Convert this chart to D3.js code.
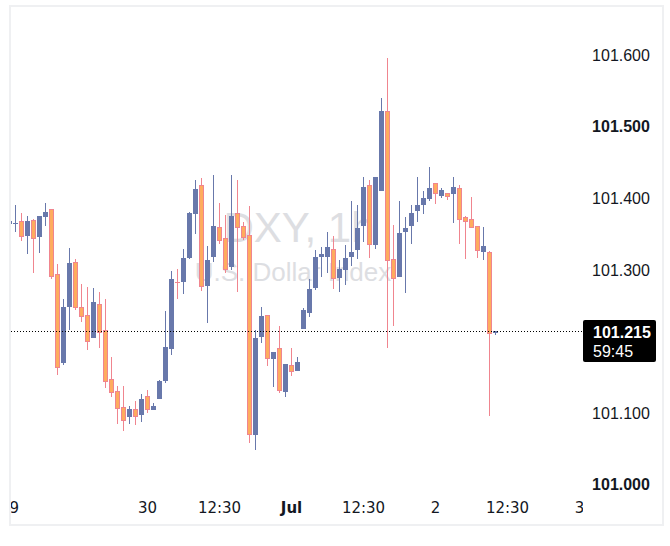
<!DOCTYPE html>
<html>
<head>
<meta charset="utf-8">
<script src="https://cdn.jsdelivr.net/npm/d3@7"></script>
<style>
html,body{margin:0;padding:0;background:#fff;}
svg{display:block;}
</style>
</head>
<body>
<script>
// ---- data (DXY, 1h candles) ----
const opens = [101.364,101.364,101.368,101.347,101.370,101.346,101.374,101.385,101.294,101.170,
101.248,101.311,101.248,101.237,101.205,101.253,101.216,101.148,101.131,101.109,
101.095,101.106,101.098,101.124,101.104,101.120,101.145,101.190,101.283,101.283,
101.317,101.378,101.419,101.278,101.318,101.360,101.345,101.304,101.380,101.361,
101.349,101.070,101.206,101.237,101.176,101.191,101.130,101.167,101.159,101.218,
101.240,101.275,101.318,101.318,101.329,101.289,101.300,101.318,101.328,101.361,
101.419,101.335,101.410,101.522,101.315,101.290,101.353,101.361,101.382,101.391,
101.399,101.422,101.403,101.408,101.406,101.415,101.374,101.371,101.361,101.325,
101.325,101.212];
const closes = [101.368,101.366,101.346,101.368,101.343,101.375,101.381,101.290,101.163,101.248,
101.310,101.247,101.234,101.199,101.255,101.212,101.144,101.128,101.106,101.089,
101.106,101.095,101.120,101.104,101.110,101.145,101.192,101.287,101.282,101.317,
101.380,101.413,101.276,101.314,101.361,101.340,101.300,101.375,101.359,101.345,
101.070,101.205,101.236,101.176,101.185,101.131,101.169,101.158,101.172,101.244,
101.273,101.318,101.322,101.332,101.287,101.301,101.317,101.325,101.359,101.416,
101.335,101.430,101.522,101.313,101.287,101.352,101.359,101.380,101.391,101.401,
101.415,101.406,101.412,101.402,101.416,101.370,101.367,101.359,101.327,101.334,
101.211,101.215];
const highs = [101.368,101.391,101.380,101.375,101.371,101.375,101.394,101.385,101.308,101.260,
101.331,101.315,101.280,101.276,101.275,101.269,101.260,101.179,101.138,101.138,
101.110,101.117,101.127,101.132,101.114,101.146,101.243,101.299,101.301,101.329,
101.381,101.426,101.428,101.334,101.433,101.394,101.377,101.433,101.426,101.367,
101.389,101.216,101.248,101.237,101.185,101.222,101.169,101.191,101.179,101.247,
101.287,101.328,101.332,101.353,101.347,101.314,101.335,101.396,101.391,101.430,
101.426,101.430,101.540,101.596,101.363,101.396,101.374,101.391,101.430,101.410,
101.444,101.422,101.415,101.408,101.430,101.419,101.375,101.402,101.361,101.360,
101.327,101.215];
const lows = [101.364,101.353,101.340,101.322,101.296,101.324,101.361,101.287,101.153,101.167,
101.216,101.244,101.227,101.188,101.205,101.191,101.135,101.123,101.085,101.075,
101.085,101.084,101.088,101.100,101.104,101.120,101.142,101.181,101.260,101.266,
101.316,101.350,101.271,101.226,101.311,101.336,101.296,101.300,101.269,101.342,
101.058,101.049,101.198,101.166,101.137,101.128,101.123,101.152,101.159,101.218,
101.234,101.272,101.290,101.296,101.273,101.269,101.279,101.306,101.315,101.339,
101.317,101.329,101.410,101.191,101.222,101.290,101.268,101.336,101.367,101.378,
101.396,101.392,101.401,101.398,101.366,101.336,101.315,101.359,101.317,101.314,
101.096,101.209];

const priceTicks = [101.0, 101.1, 101.2, 101.3, 101.4, 101.5, 101.6];
const priceTickLabels = ["101.000","101.100",null,"101.300","101.400","101.500","101.600"];
const timeTickIndex = [1, 24, 36, 48, 60, 72, 84, 96];
const timeTickLabels = ["29","30","12:30","Jul","12:30","2","12:30","3"];
const lastPrice = 101.215;
const lastPriceLabel = "101.215";
const countdownLabel = "59:45";
const watermarkTitle = "DXY, 1h";
const watermarkSubtitle = "U.S. Dollar Index";

// ---- layout ----
const W = 670, H = 546;
const paneLeft = 10, paneRight = 583, paneTop = 7, paneBottom = 524;
const UP = "#6878ab", DOWN_FILL = "#feac5e", DOWN_LINE = "#f0858f";
const TXT = "#131722";
const FONT_T = "'DejaVu Sans', sans-serif";
const FONT_P = "'Liberation Sans', Arial, sans-serif";

const svg = d3.select("body").append("svg").attr("width", W).attr("height", H);

const x = d3.scaleLinear().domain([1, 96]).range([9.5, 579.5]);
const y = d3.scaleLinear().domain([101.0, 101.6]).range([484.8, 55.2]);

svg.append("defs").append("clipPath").attr("id","pane")
  .append("rect").attr("x", paneLeft).attr("y", paneTop)
  .attr("width", paneRight - paneLeft).attr("height", paneBottom - paneTop);

// watermark
const wm = svg.append("g").attr("clip-path","url(#pane)");
wm.append("text").attr("x", 299).attr("y", 242).attr("text-anchor","middle")
  .attr("font-family", FONT_P).attr("font-size", 42)
  .attr("fill","#dddee2").text(watermarkTitle);
wm.append("text").attr("x", 293).attr("y", 281).attr("text-anchor","middle")
  .attr("font-family", FONT_P).attr("font-size", 26)
  .attr("fill","#dddee2").text(watermarkSubtitle);

// candles
const data = opens.map((o, i) => ({i: i + 1, o, c: closes[i], h: highs[i], l: lows[i]}));
const g = svg.append("g").attr("clip-path","url(#pane)");

data.forEach(d => {
  const cx = x(d.i);
  const up = d.c >= d.o;
  const col = up ? UP : DOWN_LINE;
  const yh = Math.round(y(d.h)), yl = Math.round(y(d.l));
  g.append("rect").attr("x", cx - 0.5).attr("y", yh).attr("width", 1)
    .attr("height", Math.max(1, yl - yh)).attr("fill", col);
  const yt = Math.round(y(Math.max(d.o, d.c)));
  const yb = Math.round(y(Math.min(d.o, d.c)));
  const bh = Math.max(1, yb - yt);
  const bx = cx - 2.5;
  g.append("rect").attr("x", bx).attr("y", yt).attr("width", 5).attr("height", bh).attr("fill", col);
  if (!up && bh >= 3) {
    g.append("rect").attr("x", bx + 1).attr("y", yt + 1).attr("width", 3).attr("height", bh - 2)
      .attr("fill", DOWN_FILL);
  }
});

// last price dotted line
const yLast = Math.round(y(lastPrice)) + 0.5;
svg.append("line").attr("x1", paneLeft + 1).attr("x2", paneRight).attr("y1", yLast).attr("y2", yLast)
  .attr("stroke", "#000").attr("stroke-width", 1).attr("stroke-dasharray", "1,2");

// price axis labels
priceTicks.forEach((v, k) => {
  const lab = priceTickLabels[k];
  if (!lab) return;
  svg.append("text").attr("x", 621).attr("y", y(v)).attr("dy", "0.35em")
    .attr("text-anchor", "middle").attr("font-family", FONT_P).attr("font-size", 16)
    .attr("font-weight", (v === 101.5 || v === 101.0) ? "bold" : "normal")
    .attr("fill", TXT).text(lab);
});

// last price box
svg.append("rect").attr("x", 583).attr("y", 320).attr("width", 73).attr("height", 42)
  .attr("rx", 2).attr("fill", "#000");
svg.append("text").attr("x", 593).attr("y", 337.5).attr("font-family", FONT_P).attr("font-size", 16)
  .attr("font-weight", "bold").attr("fill", "#fff").text(lastPriceLabel);
svg.append("text").attr("x", 593).attr("y", 356.5).attr("font-family", FONT_P).attr("font-size", 16)
  .attr("fill", "#fff").text(countdownLabel);

// time axis labels
const tg = svg.append("g").attr("clip-path","url(#pane)");
timeTickIndex.forEach((ix, k) => {
  tg.append("text").attr("x", x(ix)).attr("y", 508).attr("dy", "0.35em")
    .attr("text-anchor", "middle").attr("font-family", FONT_T).attr("font-size", 15)
    .attr("font-weight", timeTickLabels[k] === "Jul" ? "bold" : "normal")
    .attr("fill", TXT).text(timeTickLabels[k]);
});

// frame
svg.append("rect").attr("x", 10).attr("y", 6).attr("width", 653).attr("height", 519)
  .attr("fill", "none").attr("stroke", "#eff0f2").attr("stroke-width", 2);
</script>
</body>
</html>
